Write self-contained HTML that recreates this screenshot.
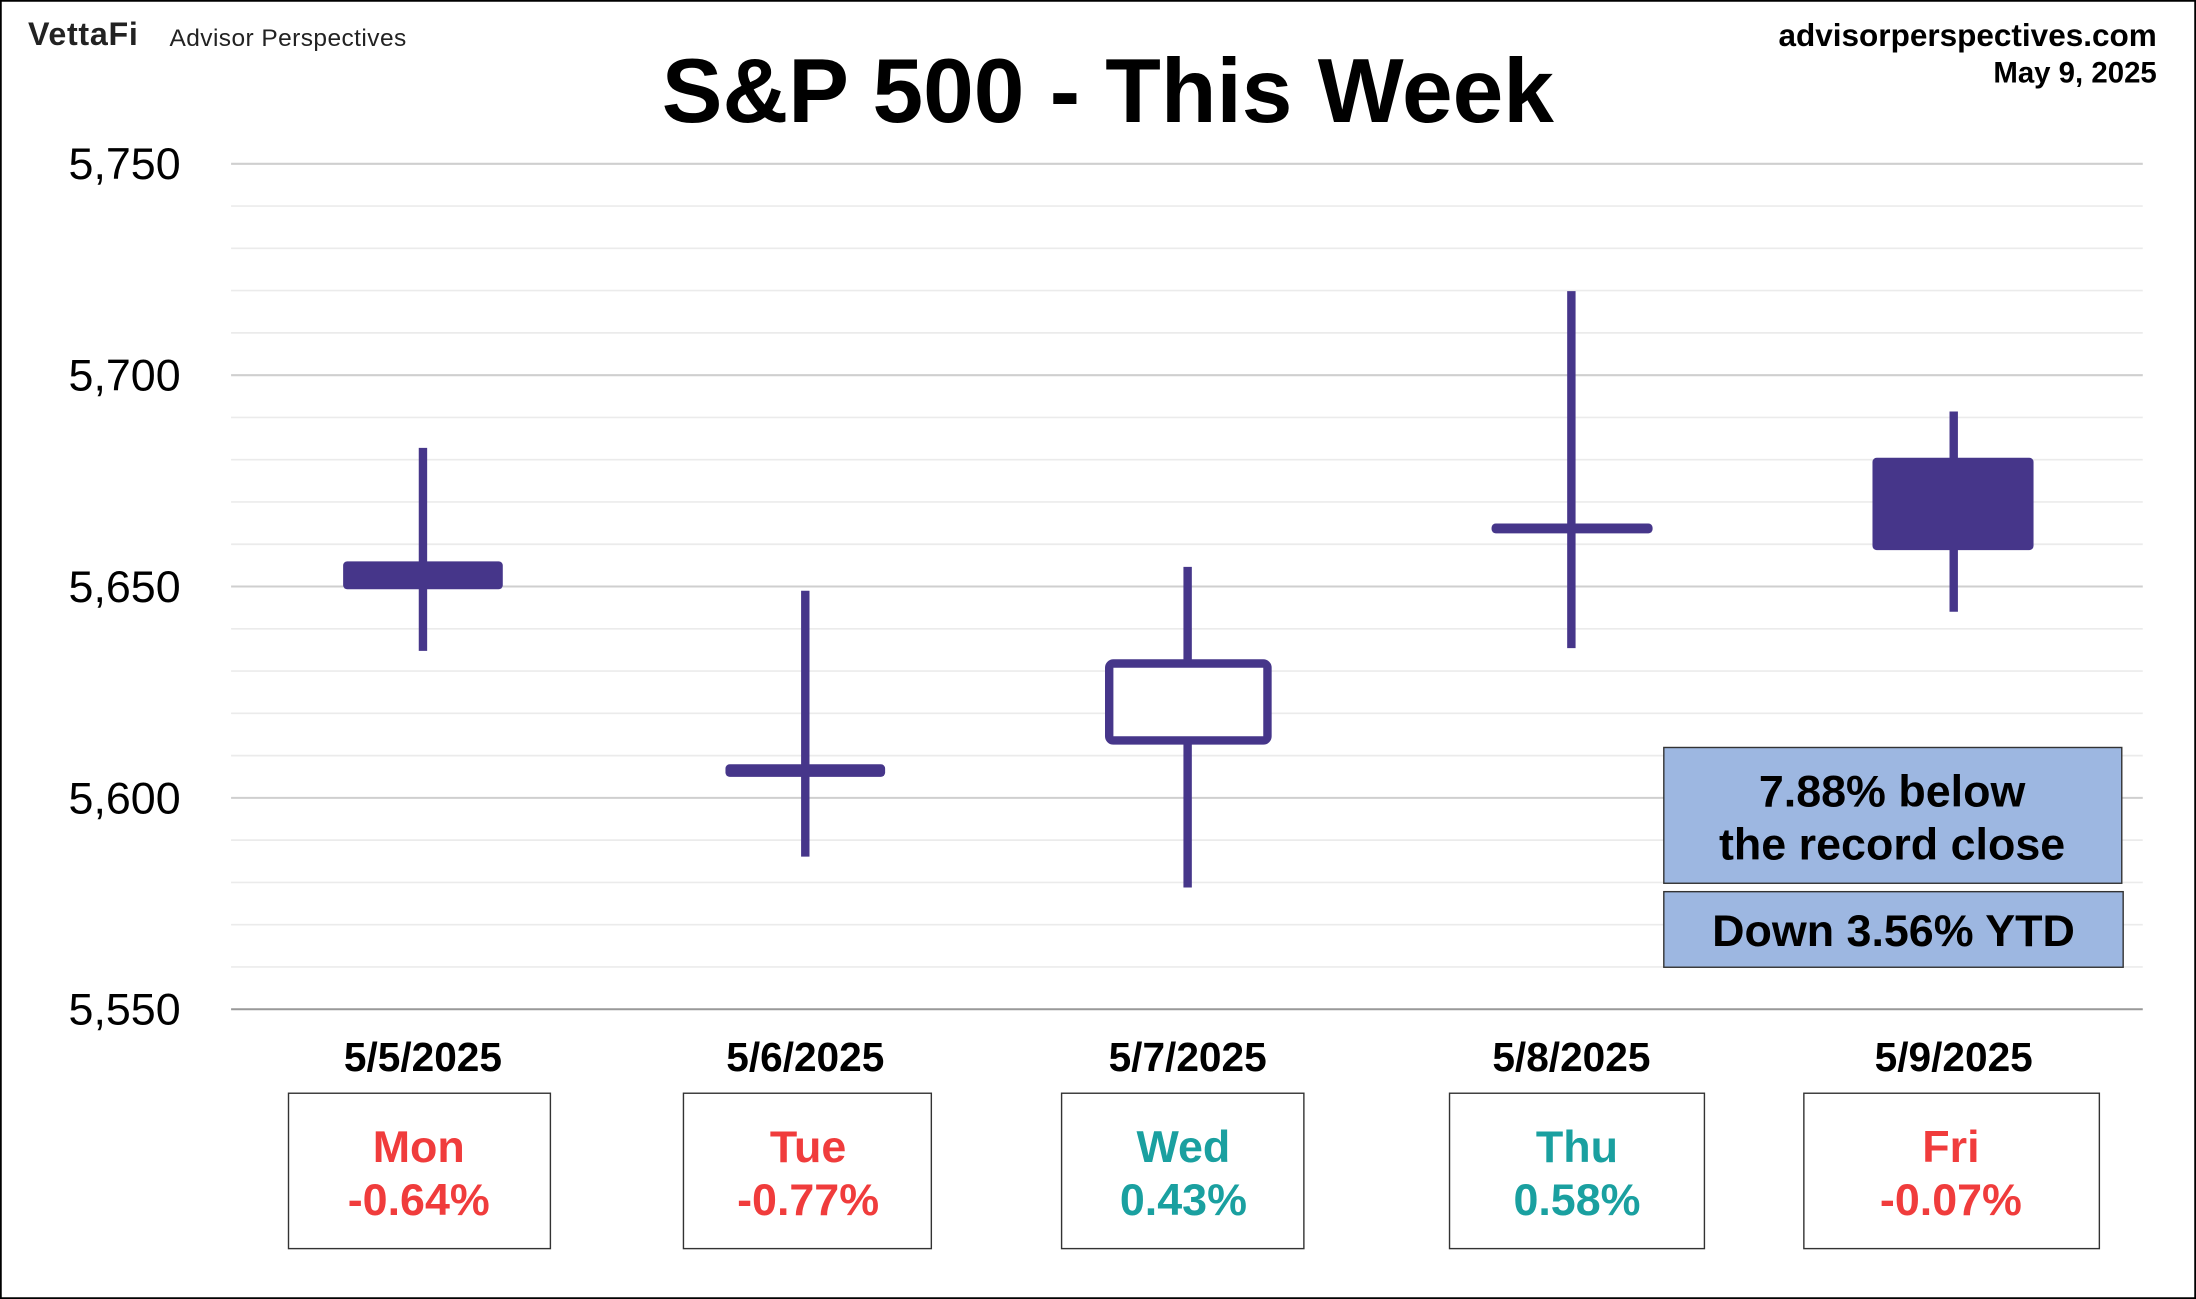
<!DOCTYPE html>
<html><head><meta charset="utf-8"><style>
html,body{margin:0;padding:0;background:#fff}
svg{display:block}
text{font-family:"Liberation Sans",Arial,sans-serif}
</style></head><body>
<svg width="2196" height="1299" viewBox="0 0 1568 928" preserveAspectRatio="none" xmlns="http://www.w3.org/2000/svg">
<rect x="0.5" y="0.5" width="1567" height="927" fill="#fff" stroke="#000" stroke-width="1.5"/>
<g stroke="#ebebeb" stroke-width="1.2">
<line x1="165" x2="1530" y1="147.2" y2="147.2"/><line x1="165" x2="1530" y1="177.4" y2="177.4"/><line x1="165" x2="1530" y1="207.6" y2="207.6"/><line x1="165" x2="1530" y1="237.8" y2="237.8"/>
<line x1="165" x2="1530" y1="298.2" y2="298.2"/><line x1="165" x2="1530" y1="328.4" y2="328.4"/><line x1="165" x2="1530" y1="358.6" y2="358.6"/><line x1="165" x2="1530" y1="388.8" y2="388.8"/>
<line x1="165" x2="1530" y1="449.2" y2="449.2"/><line x1="165" x2="1530" y1="479.4" y2="479.4"/><line x1="165" x2="1530" y1="509.6" y2="509.6"/><line x1="165" x2="1530" y1="539.8" y2="539.8"/>
<line x1="165" x2="1530" y1="600.2" y2="600.2"/><line x1="165" x2="1530" y1="630.4" y2="630.4"/><line x1="165" x2="1530" y1="660.6" y2="660.6"/><line x1="165" x2="1530" y1="690.8" y2="690.8"/>
</g>
<g stroke="#cfcfcf" stroke-width="1.5">
<line x1="165" x2="1530" y1="117" y2="117"/><line x1="165" x2="1530" y1="268" y2="268"/><line x1="165" x2="1530" y1="419" y2="419"/><line x1="165" x2="1530" y1="570" y2="570"/>
</g>
<line x1="165" x2="1530" y1="721" y2="721" stroke="#999" stroke-width="1.5"/>
<g font-size="32" text-anchor="end" fill="#000">
<text x="129" y="128">5,750</text><text x="129" y="279">5,700</text><text x="129" y="430">5,650</text><text x="129" y="581">5,600</text><text x="129" y="732">5,550</text>
</g>
<g fill="#46368a" stroke="#46368a">
<line x1="302" x2="302" y1="320" y2="465" stroke-width="6"/>
<rect x="245" y="401" width="114" height="20" rx="3" stroke="none"/>
<line x1="575" x2="575" y1="422" y2="612" stroke-width="6"/>
<rect x="518" y="546" width="114" height="9" rx="3" stroke="none"/>
<line x1="848" x2="848" y1="405" y2="634" stroke-width="6"/>
<rect x="792" y="474" width="113" height="55" rx="3" fill="#fff" stroke-width="6"/>
<line x1="1122" x2="1122" y1="208" y2="463" stroke-width="6"/>
<rect x="1065" y="374" width="115" height="7" rx="3" stroke="none"/>
<line x1="1395" x2="1395" y1="294" y2="437" stroke-width="6"/>
<rect x="1337" y="327" width="115" height="66" rx="3" stroke="none"/>
</g>
<rect x="1188" y="534" width="327" height="97" fill="#9db7e1" stroke="#333" stroke-width="1"/>
<rect x="1188" y="637" width="328" height="54" fill="#9db7e1" stroke="#333" stroke-width="1"/>
<g font-size="32" font-weight="bold" text-anchor="middle" fill="#000">
<text x="1351" y="576">7.88% below</text><text x="1351" y="614">the record close</text><text x="1352" y="676">Down 3.56% YTD</text>
</g>
<g font-size="29" font-weight="bold" text-anchor="middle" fill="#000">
<text x="302" y="765">5/5/2025</text><text x="575" y="765">5/6/2025</text><text x="848" y="765">5/7/2025</text><text x="1122" y="765">5/8/2025</text><text x="1395" y="765">5/9/2025</text>
</g>
<g fill="none" stroke="#333" stroke-width="1">
<rect x="206" y="781" width="187" height="111"/><rect x="488" y="781" width="177" height="111"/><rect x="758" y="781" width="173" height="111"/><rect x="1035" y="781" width="182" height="111"/><rect x="1288" y="781" width="211" height="111"/>
</g>
<g font-size="32" font-weight="bold" text-anchor="middle">
<text x="299" y="830" fill="#f03c3c">Mon</text><text x="299" y="868" fill="#f03c3c">-0.64%</text>
<text x="577" y="830" fill="#f03c3c">Tue</text><text x="577" y="868" fill="#f03c3c">-0.77%</text>
<text x="845" y="830" fill="#1aa0a0">Wed</text><text x="845" y="868" fill="#1aa0a0">0.43%</text>
<text x="1126" y="830" fill="#1aa0a0">Thu</text><text x="1126" y="868" fill="#1aa0a0">0.58%</text>
<text x="1393" y="830" fill="#f03c3c">Fri</text><text x="1393" y="868" fill="#f03c3c">-0.07%</text>
</g>
<text x="791" y="87" font-size="65" font-weight="bold" text-anchor="middle" fill="#000">S&amp;P 500 - This Week</text>
<text x="1540" y="33" font-size="22.5" font-weight="bold" text-anchor="end" fill="#000">advisorperspectives.com</text>
<text x="1540" y="59" font-size="21" font-weight="bold" text-anchor="end" fill="#000">May 9, 2025</text>
<text x="20" y="32" font-size="23" font-weight="bold" fill="#222" letter-spacing="0.5">VettaFi</text>
<text x="121" y="33" font-size="17.5" fill="#222" letter-spacing="0.3">Advisor Perspectives</text>
</svg>
</body></html>
